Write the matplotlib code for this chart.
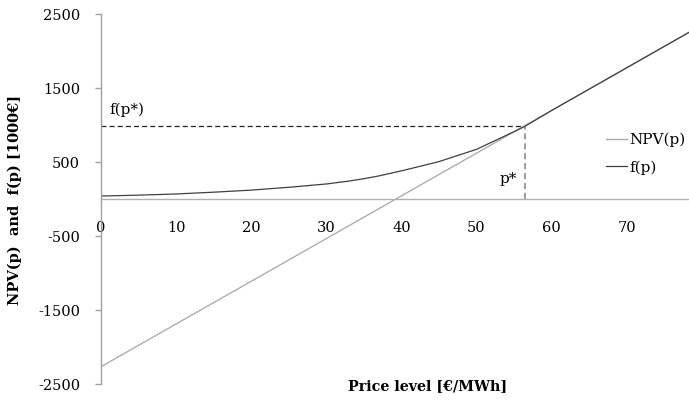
import matplotlib.pyplot as plt

# price levels and values (1000 EUR)
price_npv = [0, 10, 20, 30, 40, 50, 60, 70, 78.3]
npv = [-2266, -1689, -1112, -535, 42, 619, 1196, 1773, 2252]

price_f = [0, 5, 10, 15, 20, 25, 30, 33, 35, 37, 40, 45, 50, 55, 56.5, 60, 70, 78.3]
f_vals = [40, 52, 68, 92, 120, 158, 203, 242, 274, 312, 380, 505, 671, 910, 985, 1196, 1773, 2252]

p_star = 56.5
f_star = 985

x_ticks = [0, 10, 20, 30, 40, 50, 60, 70]
y_ticks = [-2500, -1500, -500, 500, 1500, 2500]

plt.rcParams['font.family'] = ['DejaVu Serif']
plt.rcParams['axes.unicode_minus'] = False

W, H = 689, 403
fig = plt.figure(figsize=(W / 100, H / 100), dpi=100)
ax = fig.add_axes([101 / W, (H - 384) / H, (W - 101) / W, 370 / H])

ax.plot(price_npv, npv, color='#a6a6a6', linewidth=0.9, label='NPV(p)')
ax.plot(price_f, f_vals, color='#404040', linewidth=0.9, label='f(p)')

# dashed guides to the tangency point
ax.plot([0, p_star], [f_star, f_star], color='#222222', linewidth=0.9, dashes=(4, 2.5))
ax.plot([p_star, p_star], [0, f_star], color='#808080', linewidth=1.1, dashes=(4, 2.5))

ax.text(1.1, 1200, 'f(p*)', fontsize=11, va='center', ha='left')
ax.text(54.2, 277, 'p*', fontsize=11, va='center', ha='center')

ax.set_xlim(0, 78.3)
ax.set_ylim(-2500, 2500)
ax.set_xticks(x_ticks)
ax.set_yticks(y_ticks)

ax.spines['top'].set_visible(False)
ax.spines['right'].set_visible(False)
ax.spines['bottom'].set_position(('data', 0))
ax.spines['left'].set_color('#a0a0a0')
ax.spines['bottom'].set_color('#b0b0b0')
ax.spines['left'].set_linewidth(1.0)
ax.spines['bottom'].set_linewidth(1.0)

ax.tick_params(axis='y', length=4, width=1, color='#a0a0a0', pad=11, labelsize=10.5)
ax.tick_params(axis='x', length=0, pad=16, labelsize=10.5)

ax.legend(loc='upper left', bbox_to_anchor=(606 / W, 1 - 133 / H), bbox_transform=fig.transFigure,
          frameon=False, fontsize=11, handlelength=1.4, handletextpad=0.15,
          labelspacing=0.85, borderpad=0, borderaxespad=0)

fig.text(428 / W, 1 - 386 / H, 'Price level [€/MWh]', fontsize=10.3, fontweight='bold',
         ha='center', va='center')
fig.text(15 / W, 1 - 200 / H, 'NPV(p)  and  f(p) [1000€]', fontsize=10.5, fontweight='bold',
         ha='center', va='center', rotation=90)

fig.savefig('out.png', dpi=100)
